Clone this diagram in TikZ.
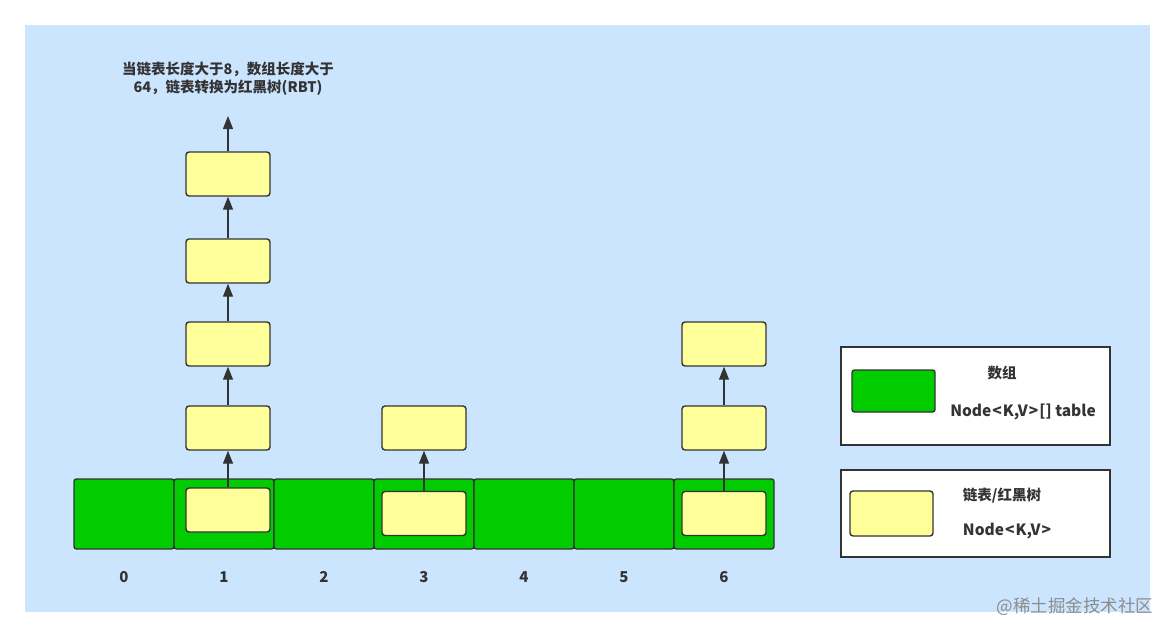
\documentclass[tikz,border=0pt]{standalone}
\usepackage{fontspec}
\setmainfont{Noto Sans CJK SC}
\usetikzlibrary{arrows.meta}
\definecolor{bgblue}{HTML}{CCE5FF}
\definecolor{cellgreen}{HTML}{00CC00}
\definecolor{nodeyellow}{HTML}{FFFF99}
\definecolor{ink}{HTML}{333333}
\begin{document}
\begin{tikzpicture}[x=1pt,y=-1pt,
  cell/.style={draw=ink,line width=1.4pt,fill=cellgreen,rounded corners=2.5pt},
  knode/.style={draw=ink,line width=1.4pt,fill=nodeyellow,rounded corners=3pt},
  legendbox/.style={draw=ink,line width=1.4pt,fill=white},
  link/.style={draw=ink,line width=1.3pt,-{Triangle[length=13pt,width=10pt]}},
  lbl/.style={text=ink,font=\bfseries\fontsize{14.5}{18}\selectfont,inner sep=0pt},
  code/.style={text=ink,font=\bfseries\fontsize{15.5}{18}\selectfont,inner sep=0pt},
  idx/.style={text=ink,font=\bfseries\fontsize{15}{18}\selectfont,inner sep=0pt}
]
\useasboundingbox (0,0) rectangle (1175,637);
\fill[bgblue] (25,25) rectangle (1150,612);

% array cells
\foreach \i in {0,...,6}{
  \path[cell] (74+100*\i,479) rectangle (174+100*\i,549);
  \node[idx] (n\i) at (124+100*\i,577) {\i};
}

% inner nodes in cells
\node[knode,minimum width=84pt,minimum height=44pt,inner sep=0pt] (a1) at (228,510) {};
\node[knode,minimum width=84pt,minimum height=44pt,inner sep=0pt] (a3) at (424,513.5) {};
\node[knode,minimum width=84pt,minimum height=44pt,inner sep=0pt] (a6) at (724,513.5) {};

% column 1 chain
\foreach \n/\y in {b1/428,c1/344,d1/261,e1/174}{
  \node[knode,minimum width=84pt,minimum height=44pt,inner sep=0pt] (\n) at (228,\y) {};
}
\coordinate (top1) at (228,116);
\draw[link] (a1.north) -- (b1.south);
\draw[link] (b1.north) -- (c1.south);
\draw[link] (c1.north) -- (d1.south);
\draw[link] (d1.north) -- (e1.south);
\draw[link] (e1.north) -- (top1);

\node[lbl,align=center] (note) at (228,79) {当链表长度大于8，数组长度大于\\64，链表转换为红黑树(RBT)};

% column 3
\node[knode,minimum width=84pt,minimum height=44pt,inner sep=0pt] (b3) at (424,428) {};
\draw[link] (a3.north) -- (b3.south);

% column 6
\node[knode,minimum width=84pt,minimum height=44pt,inner sep=0pt] (b6) at (724,428) {};
\node[knode,minimum width=84pt,minimum height=44pt,inner sep=0pt] (c6) at (724,344) {};
\draw[link] (a6.north) -- (b6.south);
\draw[link] (b6.north) -- (c6.south);

% legend
\path[legendbox] (841,347) rectangle (1110,445);
\node[cell,minimum width=83pt,minimum height=42pt,inner sep=0pt] (lg) at (893.5,391) {};
\node[lbl] (lgt1) at (1002,373) {数组};
\node[code] (lgt2) at (1023,412) {Node\kern1pt<\kern1ptK,V\kern1pt>\kern1pt[] table};

\path[legendbox] (841,470) rectangle (1110,557);
\node[knode,minimum width=83pt,minimum height=45pt,inner sep=0pt] (ly) at (891.5,513.5) {};
\node[lbl] (lyt1) at (1002,496) {链表/红黑树};
\node[code] (lyt2) at (1007,531) {Node\kern1pt<\kern1ptK,V\kern1pt>};

% watermark
\node[text=black!45,font=\fontsize{17.5}{20}\selectfont,inner sep=0pt] (wm) at (1075,607) {@稀土掘金技术社区};
\end{tikzpicture}
\end{document}
